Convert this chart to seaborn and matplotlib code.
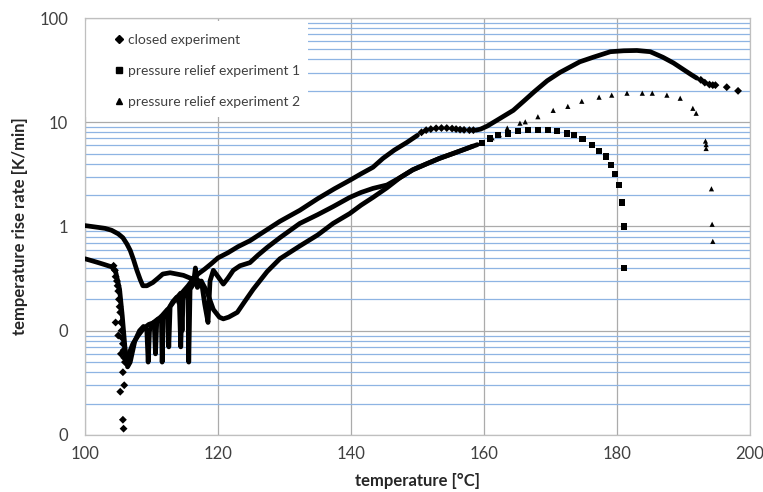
import numpy as np
import pandas as pd
import matplotlib
matplotlib.use("Agg")
import matplotlib.pyplot as plt
from matplotlib.lines import Line2D
from matplotlib.patches import Rectangle
from matplotlib.ticker import FixedLocator, LogLocator, NullFormatter
import seaborn as sns

# closed experiment (diamonds)
closed_scatter_t = [104.3, 104.5, 104.6, 104.8, 104.9, 105.0, 105.1, 105.2, 105.3, 105.4, 105.5, 105.6,
                    105.7, 105.8, 105.9, 106.0, 104.6, 105.0, 105.4, 105.7, 105.9, 105.3, 105.7, 105.8]
closed_scatter_r = [0.42, 0.38, 0.33, 0.30, 0.27, 0.24, 0.20, 0.17, 0.15, 0.12, 0.10, 0.085,
                    0.075, 0.065, 0.055, 0.05, 0.12, 0.09, 0.06, 0.04, 0.03, 0.026, 0.014, 0.0115]
closed_line_t = [106.0, 106.6, 107.2, 108.0, 108.8, 109.6, 110.4, 110.6, 110.8, 111.6, 112.4, 112.6,
                 112.8, 113.6, 114.4, 114.6, 114.8, 115.5, 116.2, 117.0, 118.0, 119.0, 120.0, 121.5,
                 123.0, 124.8, 127.0, 129.3, 132.3, 135.0, 137.5, 139.8, 141.5, 143.3, 144.8, 146.5,
                 148.4, 150.0]
closed_line_r = [0.05, 0.06, 0.075, 0.09, 0.105, 0.115, 0.12, 0.06, 0.125, 0.14, 0.16, 0.07,
                 0.17, 0.20, 0.23, 0.10, 0.24, 0.27, 0.31, 0.35, 0.39, 0.44, 0.50, 0.56,
                 0.64, 0.73, 0.90, 1.12, 1.43, 1.85, 2.3, 2.77, 3.2, 3.7, 4.5, 5.4,
                 6.4, 7.5]
closed_plateau_t = [150.6, 151.3, 152.0, 152.8, 153.6, 154.4, 155.2, 155.8, 156.4, 157.0, 157.8, 158.4]
closed_plateau_r = [8.0, 8.4, 8.6, 8.75, 8.8, 8.8, 8.7, 8.6, 8.5, 8.45, 8.4, 8.4]
closed_peak_t = [158.8, 159.5, 160.5, 162.0, 163.5, 164.4, 166.0, 167.5, 169.5, 171.4, 174.4, 176.4,
                 179.0, 181.0, 183.0, 185.0, 186.9, 188.5, 190.0, 191.2, 192.0]
closed_peak_r = [8.4, 8.6, 9.2, 10.5, 12.0, 13.0, 16.0, 19.5, 25.0, 30.0, 38.0, 42.0,
                 47.5, 48.5, 48.8, 47.5, 42.0, 37.0, 32.0, 28.5, 26.5]
closed_tail_t = [192.6, 193.2, 193.9, 194.4, 194.8, 196.5, 198.2]
closed_tail_r = [25.5, 24.0, 23.0, 22.7, 22.7, 21.7, 20.0]

# pressure relief experiment 1 (squares)
relief1_line_t = [100.0, 101.0, 102.0, 103.0, 104.0, 104.6, 105.2, 105.6, 106.0, 106.4, 106.8, 107.5,
                  108.2, 108.8, 109.3, 109.5, 109.7, 110.3, 111.0, 111.5, 111.6, 111.8, 112.5, 113.2,
                  113.8, 114.2, 114.4, 114.6, 115.2, 115.5, 115.6, 115.8, 116.3, 116.6, 116.9, 117.5,
                  118.0, 118.5, 118.8, 119.3, 120.0, 120.8, 121.5, 122.3, 123.3, 124.8, 126.0, 127.4,
                  129.3, 132.3, 135.0, 137.3, 139.8, 141.5, 143.3, 145.4, 147.4, 149.3, 151.4, 153.3,
                  155.3, 157.4, 159.0]
relief1_line_r = [0.49, 0.47, 0.45, 0.43, 0.41, 0.37, 0.25, 0.14, 0.07, 0.045, 0.05, 0.08,
                  0.10, 0.11, 0.10, 0.05, 0.10, 0.12, 0.13, 0.12, 0.05, 0.13, 0.16, 0.19,
                  0.21, 0.18, 0.07, 0.20, 0.24, 0.20, 0.05, 0.25, 0.28, 0.40, 0.26, 0.30,
                  0.18, 0.12, 0.30, 0.38, 0.33, 0.28, 0.32, 0.38, 0.42, 0.45, 0.53, 0.63,
                  0.78, 1.07, 1.30, 1.55, 1.90, 2.12, 2.32, 2.50, 2.95, 3.50, 4.00, 4.50,
                  5.00, 5.60, 6.10]
relief1_pts_t = [159.7, 160.9, 162.1, 163.6, 165.1, 166.6, 168.1, 169.6, 171.0, 172.5, 173.5, 174.8,
                 176.2, 177.3, 178.3, 179.1, 179.7, 180.3, 180.8, 181.0, 181.1]
relief1_pts_r = [6.3, 7.0, 7.5, 7.8, 8.2, 8.4, 8.5, 8.4, 8.2, 7.8, 7.5, 6.9,
                 6.1, 5.3, 4.7, 3.9, 3.2, 2.5, 1.7, 1.0, 0.40]

# pressure relief experiment 2 (triangles)
relief2_line_t = [100.0, 101.0, 102.0, 103.0, 104.0, 105.0, 105.7, 106.3, 106.8, 107.3, 107.8, 108.3,
                  108.7, 109.3, 110.2, 111.0, 111.7, 112.8, 113.8, 114.8, 115.8, 116.8, 117.6, 118.3,
                  119.3, 120.2, 120.8, 121.6, 122.9, 124.0, 125.3, 127.4, 129.3, 132.3, 135.0, 137.3,
                  139.8, 141.5, 143.3, 145.4, 147.4, 149.3, 151.4, 153.3, 155.3, 157.4, 158.3]
relief2_line_r = [1.02, 1.0, 0.98, 0.96, 0.92, 0.85, 0.78, 0.68, 0.59, 0.48, 0.38, 0.31,
                  0.27, 0.27, 0.29, 0.32, 0.35, 0.36, 0.35, 0.34, 0.32, 0.31, 0.29, 0.24,
                  0.16, 0.135, 0.13, 0.135, 0.15, 0.19, 0.25, 0.37, 0.49, 0.65, 0.83, 1.07,
                  1.33, 1.60, 1.90, 2.35, 2.95, 3.50, 4.00, 4.50, 5.00, 5.60, 5.90]
relief2_pts_t = [161.2, 162.3, 163.5, 165.4, 166.2, 168.1, 170.4, 172.6, 174.7, 177.3, 179.2, 181.5,
                 183.8, 185.3, 187.5, 189.5, 191.4, 191.9, 193.3, 193.4, 193.4, 194.2, 194.3, 194.4]
relief2_pts_r = [7.1, 7.6, 8.8, 9.8, 10.1, 11.3, 13.0, 14.2, 15.9, 17.4, 18.2, 19.0,
                 19.0, 19.0, 18.2, 17.0, 13.6, 12.2, 6.6, 6.1, 5.6, 2.3, 1.05, 0.72]

x_ticks = [100, 120, 140, 160, 180, 200]
y_ticks = [0.01, 0.1, 1, 10, 100]
y_tick_labels = ["0", "0", "1", "10", "100"]

sns.set_style("white")
plt.rcParams["font.family"] = ["Lato", "DejaVu Sans"]

fig = plt.figure(figsize=(7.63, 4.92), dpi=100)
ax = fig.add_axes([0.1114, 0.1159, 0.8716, 0.8475])

lw = 3.4
for t, r in [(closed_line_t, closed_line_r), (closed_peak_t, closed_peak_r),
             (relief1_line_t, relief1_line_r), (relief2_line_t, relief2_line_r)]:
    sns.lineplot(x=t, y=r, sort=False, estimator=None, color="black", lw=lw, ax=ax, zorder=3)

sns.scatterplot(x=closed_scatter_t + closed_plateau_t + closed_tail_t,
                y=closed_scatter_r + closed_plateau_r + closed_tail_r,
                marker="D", s=16, color="black", edgecolor="none", ax=ax, zorder=3)
sns.scatterplot(x=relief1_pts_t, y=relief1_pts_r, marker="s", s=20, color="black",
                edgecolor="none", ax=ax, zorder=3)
sns.scatterplot(x=relief2_pts_t, y=relief2_pts_r, marker="^", s=14, color="black",
                edgecolor="none", ax=ax, zorder=3)

ax.set_yscale("log")
ax.set_xlim(100, 200)
ax.set_ylim(0.01, 100)
ax.xaxis.set_major_locator(FixedLocator(x_ticks))
ax.yaxis.set_major_locator(FixedLocator(y_ticks))
ax.set_yticklabels(y_tick_labels)
ax.yaxis.set_minor_locator(LogLocator(base=10, subs=np.arange(2, 10)))
ax.yaxis.set_minor_formatter(NullFormatter())
ax.set_axisbelow(True)
ax.grid(True, which="minor", axis="y", color="#8EB4E3", lw=0.9)
ax.grid(True, which="major", axis="both", color="#ABABAB", lw=0.9)
ax.tick_params(which="both", length=0, labelsize=12, colors="#404040")
ax.tick_params(axis="y", pad=12)
ax.tick_params(axis="x", pad=8)
for s in ax.spines.values():
    s.set_color("#BFBFBF")
    s.set_linewidth(0.9)

ax.set_xlabel("temperature [°C]", fontsize=12, fontweight="bold", labelpad=8)
ax.set_ylabel("temperature rise rate [K/min]", fontsize=12, fontweight="bold", labelpad=8)

# white box behind the legend hides the gridlines there
ax.add_patch(Rectangle((0.0015, 0.762), 0.334, 0.232, transform=ax.transAxes,
                       facecolor="white", edgecolor="none", zorder=2))

handles = [Line2D([], [], ls="none", marker="D", ms=4, color="black"),
           Line2D([], [], ls="none", marker="s", ms=4, color="black"),
           Line2D([], [], ls="none", marker="^", ms=4, color="black")]
labels = ["closed experiment", "pressure relief experiment 1", "pressure relief experiment 2"]
leg = ax.legend(handles, labels, loc="upper left", bbox_to_anchor=(0.033, 0.982), fontsize=10,
                frameon=False, labelspacing=1.38, handlelength=0.6, handletextpad=0.3,
                borderpad=0.6, borderaxespad=0.0)
leg.set_zorder(5)
for txt in leg.get_texts():
    txt.set_color("#404040")

fig.savefig("out.png", dpi=100)
